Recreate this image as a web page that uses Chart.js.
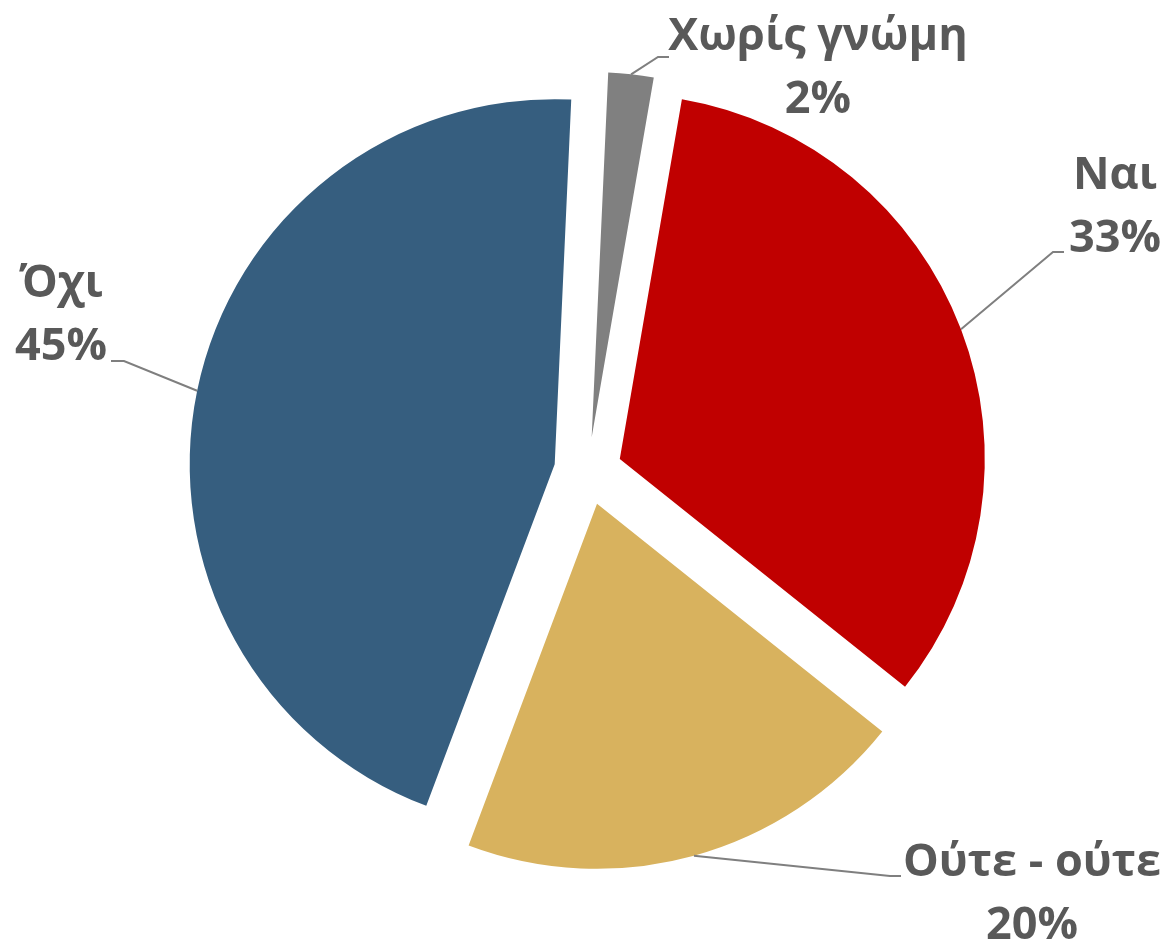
<!DOCTYPE html>
<html>
<head>
<meta charset="utf-8">
<script src="https://cdn.jsdelivr.net/npm/chart.js@4"></script>
<style>
  body { margin: 0; background: #fff; }
  canvas { display: block; }
</style>
</head>
<body>
<canvas id="vote-chart" width="1167" height="946"></canvas>
<script>
const voteCanvas = document.getElementById("vote-chart");

const answers = ["Ναι", "Ούτε - ούτε", "Όχι", "Χωρίς γνώμη"];
const shares = [33, 20, 45, 2];
const sliceColors = ["#C00000", "#D8B25E", "#365E7F", "#808080"];

// where each label sits: elbow of leader line, end of leader line, text centre x, first baseline
const labelSpots = [
  { elbow: [1053, 252], end: [1064, 252], x: 1115, y: 189 },
  { elbow: [890, 876], end: [901, 876], x: 1032, y: 876 },
  { elbow: [124, 361], end: [111, 361], x: 61, y: 297 },
  { elbow: [658, 57], end: [669, 57], x: 818, y: 50 }
];

const labelFont = 'bold 45px "Open Sans", sans-serif';
const lineGap = 63;
const explode = 34;

// Pull every slice out along its middle angle (Chart.js offset also grows small slices)
const explodeSlices = {
  id: 'explodeSlices',
  afterDatasetUpdate(chart, args) {
    const meta = chart.getDatasetMeta(args.index);
    meta.data.forEach(arc => {
      const mid = (arc.startAngle + arc.endAngle) / 2;
      arc.x += Math.cos(mid) * explode;
      arc.y += Math.sin(mid) * explode;
    });
  }
};

// Leader lines and two line labels
const pieLabels = {
  id: 'pieLabels',
  afterDatasetsDraw(chart) {
    const ctx = chart.ctx;
    const meta = chart.getDatasetMeta(0);
    const total = shares.reduce((a, b) => a + b, 0);
    meta.data.forEach((arc, i) => {
      const mid = (arc.startAngle + arc.endAngle) / 2;
      const sx = arc.x + Math.cos(mid) * arc.outerRadius;
      const sy = arc.y + Math.sin(mid) * arc.outerRadius;
      const spot = labelSpots[i];

      ctx.save();
      ctx.strokeStyle = '#7F7F7F';
      ctx.lineWidth = 2;
      ctx.beginPath();
      ctx.moveTo(sx, sy);
      ctx.lineTo(spot.elbow[0], spot.elbow[1]);
      ctx.lineTo(spot.end[0], spot.end[1]);
      ctx.stroke();

      ctx.fillStyle = '#595959';
      ctx.font = labelFont;
      ctx.textAlign = 'center';
      ctx.textBaseline = 'alphabetic';
      const pct = Math.round(shares[i] / total * 100) + '%';
      ctx.fillText(answers[i], spot.x, spot.y);
      ctx.fillText(pct, spot.x, spot.y + lineGap);
      ctx.restore();
    });
  }
};

let voteChart = new Chart(voteCanvas, {
  type: 'pie',
  data: {
    labels: answers,
    datasets: [{
      data: shares,
      backgroundColor: sliceColors,
      borderWidth: 0,
      offset: 0,
      hoverOffset: 0
    }]
  },
  options: {
    responsive: false,
    animation: false,
    rotation: 9.8,
    radius: 365,
    layout: {
      padding: { left: 9, top: 0, right: 0, bottom: 4 }
    },
    plugins: {
      legend: { display: false },
      tooltip: { enabled: false }
    }
  },
  plugins: [explodeSlices, pieLabels]
});
</script>
</body>
</html>
